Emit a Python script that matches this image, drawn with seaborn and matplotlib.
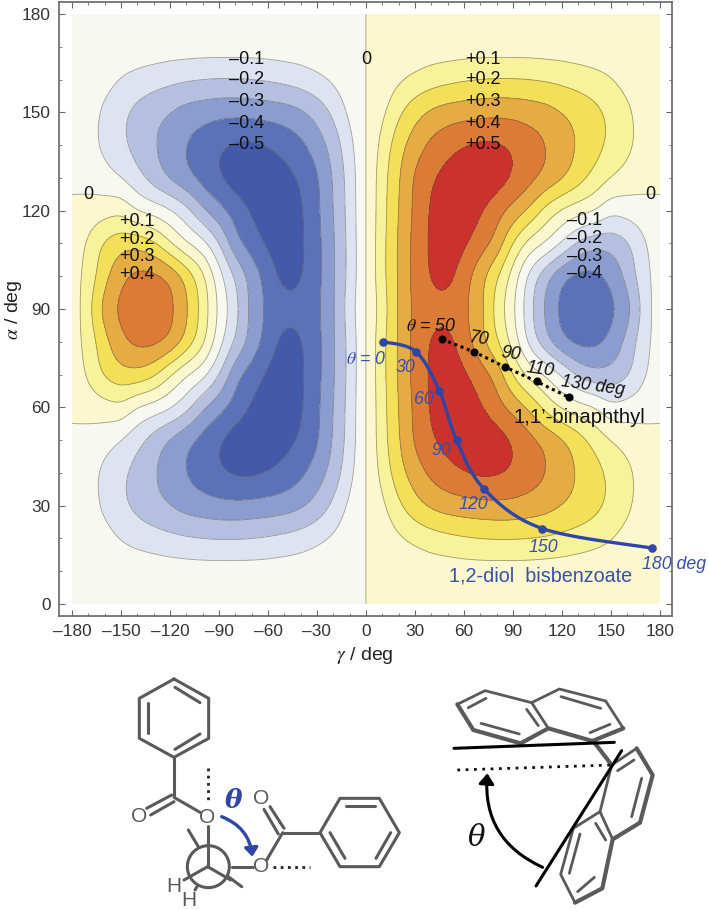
# CD exciton map (alpha vs gamma) with two conformer paths and the molecule sketches below

import numpy as np
import pandas as pd
import matplotlib
matplotlib.use('Agg')
import matplotlib.pyplot as plt
from matplotlib.patches import Circle, FancyArrowPatch
import seaborn as sns

# Map values: gamma 0..180 (columns), alpha 0..90 (rows)
# the other quadrants mirror these (even in alpha about 90, odd in gamma)
gamma_steps = [0, 10, 20, 30, 40, 50, 60, 70, 80, 90, 100, 110, 120, 130, 140, 150, 160, 170, 180]
alpha_steps = [0, 10, 20, 30, 40, 50, 60, 70, 80, 90]
row_00 = [0, .003, .005, .006, .007, .008, .008, .008, .008, .008, .008, .008, .008, .008, .008, .008, .008, .008, .008]
row_10 = [0, .008, .018, .03, .045, .05, .055, .057, .057, .057, .056, .054, .05, .043, .036, .03, .022, .015, .01]
row_20 = [0, .035, .085, .125, .155, .175, .19, .2, .205, .205, .2, .19, .175, .157, .135, .105, .065, .04, .025]
row_30 = [0, .08, .18, .26, .315, .345, .36, .37, .375, .37, .355, .335, .3, .265, .225, .175, .118, .06, .03]
row_40 = [0, .13, .255, .35, .42, .465, .495, .515, .51, .485, .445, .4, .345, .29, .235, .175, .12, .065, .03]
row_50 = [0, .155, .29, .41, .485, .53, .56, .565, .54, .49, .43, .37, .31, .24, .165, .1, .06, .035, .03]
row_60 = [0, .16, .3, .42, .51, .565, .56, .51, .44, .365, .28, .17, .09, .04, 0, -.07, -.06, -.04, -.03]
row_70 = [0, .167, .31, .43, .515, .56, .515, .445, .36, .2, .07, -.01, -.11, -.215, -.265, -.26, -.21, -.115, -.04]
row_80 = [0, .167, .31, .43, .505, .525, .445, .34, .215, .06, -.12, -.26, -.37, -.42, -.42, -.37, -.27, -.14, -.05]
row_90 = [0, .15, .31, .42, .47, .47, .42, .33, .17, .02, -.16, -.31, -.42, -.475, -.475, -.42, -.33, -.17, -.03]

levels = [-1, -.5, -.4, -.3, -.2, -.1, 0, .1, .2, .3, .4, .5, 1]
band_colors = ['#4459A9', '#5B72B8', '#8B9CD0', '#B5C0E1', '#DEE3F2', '#F6F8F1',
               '#FBF8CF', '#F8F29B', '#F3DF58', '#E6AC44', '#DB7B35', '#CB322C']

# Paths: 1,2-diol bisbenzoate (blue) and 1,1'-binaphthyl (black)
diol_gamma = [10.6, 30.6, 45, 55.5, 72.5, 108, 175.5]
diol_alpha = [80, 77, 65, 50, 35, 23, 17]
naph_gamma = [46.5, 66.3, 85.3, 104.5, 124.5]
naph_alpha = [80.8, 76.9, 72.3, 67.9, 63]

x_ticks = list(range(-180, 181, 30))
y_ticks = list(range(0, 181, 30))


def smooth(z, n, axis=0):
    # Catmull-Rom resampling along one axis
    z = np.moveaxis(np.asarray(z, dtype=float), axis, 0)
    m = z.shape[0]
    t = np.linspace(0, m - 1, (m - 1) * n + 1)
    i = np.clip(t.astype(int), 0, m - 2)
    f = (t - i).reshape((-1,) + (1,) * (z.ndim - 1))
    p0, p1 = z[np.clip(i - 1, 0, m - 1)], z[i]
    p2, p3 = z[i + 1], z[np.clip(i + 2, 0, m - 1)]
    out = 0.5 * (2 * p1 + (p2 - p0) * f + (2 * p0 - 5 * p1 + 4 * p2 - p3) * f ** 2
                 + (3 * p1 - p0 - 3 * p2 + p3) * f ** 3)
    return np.moveaxis(out, 0, axis)


def soften(z, width, axis):
    # two box passes to take the wobble out of the coarse table
    kernel = np.ones(width) / width
    for _ in range(2):
        z = np.apply_along_axis(
            lambda v: np.convolve(np.pad(v, width // 2, mode='reflect', reflect_type='odd'), kernel, mode='valid'),
            axis, z)
    return z


quadrant = np.array([row_00, row_10, row_20, row_30, row_40, row_50, row_60, row_70, row_80, row_90])
right = np.vstack([quadrant, quadrant[-2::-1]])
full = np.hstack([-right[:, :0:-1], right])
gamma_full = np.array([-g for g in gamma_steps[:0:-1]] + gamma_steps, dtype=float)
alpha_full = np.array(alpha_steps + [180 - a for a in alpha_steps[-2::-1]], dtype=float)

fine = smooth(smooth(full, 8, axis=0), 8, axis=1)
fine = soften(soften(fine, 5, 0), 5, 1)
gamma_fine = smooth(gamma_full, 8)
alpha_fine = smooth(alpha_full, 8)

sns.set_theme(style='ticks')
plt.rcParams['font.family'] = ['Liberation Sans', 'DejaVu Sans']
plt.rcParams['mathtext.fontset'] = 'stix'

W, H = 709, 910
fig = plt.figure(figsize=(W / 100, H / 100), dpi=100)
ax = fig.add_axes([59 / W, 1 - 616 / H, (672 - 59) / W, (616 - 2) / H])

ax.contourf(gamma_fine, alpha_fine, fine, levels=levels, colors=band_colors)
ax.contour(gamma_fine, alpha_fine, fine, levels=levels[1:-1], colors='#555544', linewidths=0.6,
           linestyles='solid', alpha=0.55)

# paths
blue = '#2F46A8'
diol_df = pd.DataFrame({'g': smooth(diol_gamma, 24), 'a': smooth(diol_alpha, 24)})
sns.lineplot(data=diol_df, x='g', y='a', sort=False, estimator=None, color=blue, lw=2.4, ax=ax)
sns.scatterplot(x=diol_gamma, y=diol_alpha, color=blue, s=38, linewidth=0, ax=ax, zorder=5)
naph_df = pd.DataFrame({'g': naph_gamma, 'a': naph_alpha})
sns.lineplot(data=naph_df, x='g', y='a', sort=False, estimator=None, color='black', lw=2.2,
             linestyle=(0, (1, 1.2)), ax=ax)
sns.scatterplot(data=naph_df, x='g', y='a', color='black', s=34, linewidth=0, ax=ax, zorder=5)

# axes
ax.set_xlim(-188, 187.5)
ax.set_ylim(-3.7, 183.7)
ax.set_xticks(x_ticks)
ax.set_xticklabels([str(v).replace('-', '\u2013') for v in x_ticks])
ax.set_yticks(y_ticks)
ax.set_xticks(range(-180, 181, 10), minor=True)
ax.set_yticks(range(0, 181, 10), minor=True)
ax.tick_params(which='major', direction='in', length=4.5, width=0.8, color='#666666', top=True, right=True,
               labelsize=12.4, labelcolor='#333333', pad=6)
ax.tick_params(which='minor', direction='in', length=2.5, width=0.6, color='#666666', top=True, right=True)
for side in ax.spines.values():
    side.set_color('#666666')
    side.set_linewidth(1.2)
ax.set_xlabel('')
ax.set_ylabel('')
fig.text(365 / W, 1 - 656 / H, '$\\gamma$ / deg', ha='center', va='center', fontsize=14, color='#222222')
fig.text(13 / W, 1 - 310 / H, '$\\alpha$ / deg', rotation=90, ha='center', va='center', fontsize=14, color='#222222')

# contour labels
lab_size = 13
for lab, a in zip(['\u20130.1', '\u20130.2', '\u20130.3', '\u20130.4', '\u20130.5'], [166.3, 159.9, 153.2, 146.7, 140.3]):
    ax.text(-73, a, lab, ha='center', va='center', fontsize=lab_size, color='#111111')
for lab, a in zip(['+0.1', '+0.2', '+0.3', '+0.4', '+0.5'], [166.3, 159.9, 153.2, 146.7, 140.3]):
    ax.text(71.6, a, lab, ha='center', va='center', fontsize=lab_size, color='#111111')
for lab, a in zip(['+0.1', '+0.2', '+0.3', '+0.4'], [116.6, 111.3, 106.1, 100.4]):
    ax.text(-140, a, lab, ha='center', va='center', fontsize=lab_size, color='#111111')
for lab, a in zip(['\u20130.1', '\u20130.2', '\u20130.3', '\u20130.4'], [116.9, 111.6, 106.1, 100.7]):
    ax.text(134, a, lab, ha='center', va='center', fontsize=lab_size, color='#111111')
for g, a in [(0, 166.3), (-170, 125), (174, 125)]:
    ax.text(g, a, '0', ha='center', va='center', fontsize=lab_size, color='#111111')

# path labels
diol_labels = ['$\\theta$ = 0', '30', '60', '90', '120', '150', '180 deg']
diol_pos = [(0, 74.7), (24.5, 72), (35.7, 62.3), (46, 46.7), (66, 30.4), (108.6, 17.3), (188.8, 12.1)]
for lab, (g, a) in zip(diol_labels, diol_pos):
    ax.text(g, a, lab, ha='center', va='center', fontsize=12.8, style='italic', color='#3A50A8', clip_on=False)
naph_labels = ['$\\theta$ = 50', '70', '90', '110', '130 deg']
naph_pos = [(40, 84.8), (68.8, 80.9), (88.8, 76.2), (106.5, 71.4), (139, 66.6)]
for lab, (g, a) in zip(naph_labels, naph_pos):
    ax.text(g, a, lab, ha='center', va='center', fontsize=12.8, style='italic', color='#111111',
            rotation=-8 if lab[0] != '$' else 0)
ax.text(107, 8.5, '1,2-diol  bisbenzoate', ha='center', va='center', fontsize=14.2, color='#3A50A8')
ax.text(131, 57, "1,1\u2019-binaphthyl", ha='center', va='center', fontsize=14.6, color='#111111')

# molecule sketches, in figure pixels
sk = fig.add_axes([0, 0, 1, 1], facecolor='none')
sk.set_xlim(0, W)
sk.set_ylim(H, 0)
sk.axis('off')
gray = '#5A5A5A'


def lines(segs, ox, oy, color=gray, lw=2.2, **kw):
    # polylines given in 3x crop coordinates
    for s in segs:
        s = np.array(s, dtype=float)
        sk.plot(ox + s[:, 0] / 3, oy + s[:, 1] / 3, color=color, lw=lw, solid_capstyle='round',
                solid_joinstyle='round', **kw)


# left molecule (crop origin 100, 660)
ox, oy = 100, 660
lines([
    [(222, 57), (326, 115), (326, 235), (222, 292), (118, 235), (118, 115), (222, 57)],
    [(225, 82), (300, 128)], [(300, 222), (225, 268)], [(143, 130), (143, 220)],
    [(222, 292), (222, 408)], [(215, 405), (140, 445)], [(222, 425), (152, 465)],
    [(222, 412), (300, 457)],
    [(323, 497), (323, 620)], [(323, 620), (252, 660)], [(323, 620), (392, 660)],
    [(265, 510), (295, 560)], [(397, 620), (458, 620)], [(385, 650), (425, 680)], [(285, 690), (291, 680)],
    [(500, 600), (548, 518)], [(548, 518), (660, 518)], [(535, 522), (492, 448)], [(552, 505), (510, 440)],
    [(660, 518), (720, 415), (838, 415), (898, 518), (838, 620), (720, 620), (660, 518)],
    [(738, 438), (825, 438)], [(872, 518), (828, 595)], [(735, 595), (690, 518)],
], ox, oy)
sk.add_patch(Circle((ox + 325 / 3, oy + 620 / 3), 63 / 3, fill=False, ec=gray, lw=2.2))
lines([[(323, 325), (323, 432)], [(520, 622), (630, 622)]], ox, oy, color='#222222', lw=2, linestyle=(0, (1, 1.6)))
for t, x, y in [('O', 118, 470), ('O', 322, 472), ('O', 484, 417), ('O', 483, 620), ('H', 222, 680), ('H', 266, 722)]:
    sk.text(ox + x / 3, oy + y / 3, t, ha='center', va='center', fontsize=15, color=gray)
sk.text(ox + 400 / 3, oy + 420 / 3, '\u03b8', family='DejaVu Serif', style='italic', weight='bold',
        ha='center', va='center', fontsize=19, color=blue)
sk.add_patch(FancyArrowPatch((ox + 365 / 3, oy + 470 / 3), (ox + 457 / 3, oy + 590 / 3),
                             connectionstyle='arc3,rad=-0.3', arrowstyle='-|>,head_length=5,head_width=4',
                             color=blue, lw=2.4, shrinkA=0, shrinkB=0))

# right molecule (crop origin 430, 660)
ox, oy = 430, 660
lines([
    [(82, 133), (165, 92), (305, 128), (388, 87), (527, 123), (580, 205)],
    [(305, 128), (355, 205)], [(510, 455), (430, 505), (392, 643), (435, 728)],
    [(115, 143), (168, 115)], [(153, 190), (268, 222)], [(290, 148), (325, 197)],
    [(393, 110), (512, 145)], [(480, 218), (540, 193)],
    [(545, 315), (620, 265)], [(545, 315), (510, 455), (548, 538)],
    [(563, 332), (612, 300)], [(635, 355), (605, 470)], [(497, 490), (527, 540)],
    [(450, 522), (418, 640)], [(443, 695), (493, 652)],
], ox, oy, lw=2)
lines([
    [(82, 133), (130, 210), (272, 250), (355, 205), (487, 243), (580, 205)],
    [(495, 250), (545, 315)],
    [(620, 265), (668, 345), (630, 488), (548, 538), (517, 685), (435, 728)],
], ox, oy, lw=3)
lines([[(72, 265), (553, 247)], [(318, 678), (575, 272)]], ox, oy, color='black', lw=2.2)
lines([[(82, 330), (545, 315)]], ox, oy, color='#111111', lw=2, linestyle=(0, (1, 2)))
sk.add_patch(FancyArrowPatch((ox + 338 / 3, oy + 622 / 3), (ox + 172 / 3, oy + 340 / 3),
                             connectionstyle='arc3,rad=-0.35', arrowstyle='-|>,head_length=6,head_width=4.5',
                             color='black', lw=2.2, shrinkA=0, shrinkB=0))
sk.text(ox + 140 / 3, oy + 535 / 3, '\u03b8', family='DejaVu Serif', style='italic',
        ha='center', va='center', fontsize=21, color='#111111')

fig.savefig('out.png', dpi=100)
